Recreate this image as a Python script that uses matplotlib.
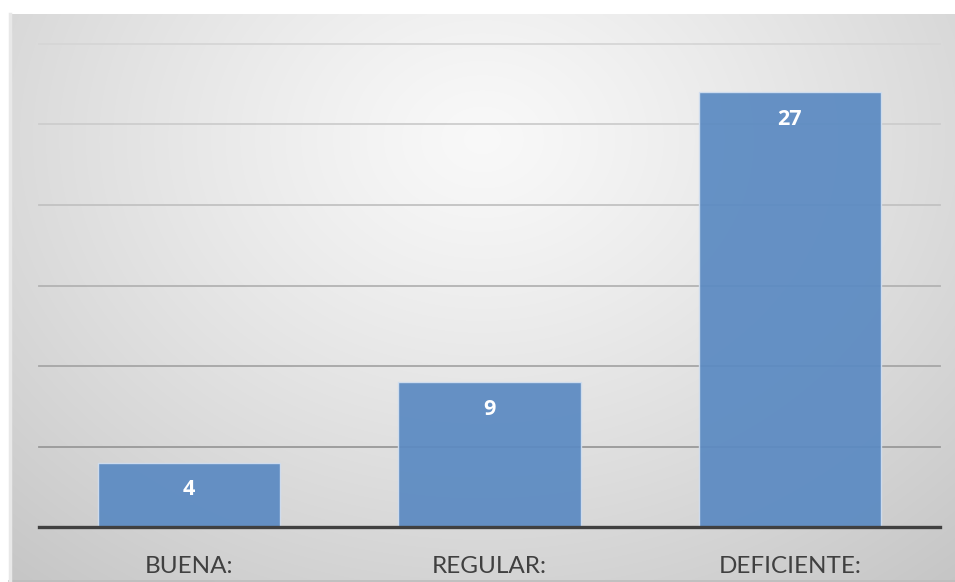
import numpy as np
import matplotlib
matplotlib.use("Agg")
import matplotlib.pyplot as plt

# Chart data
categories = ["BUENA:", "REGULAR:", "DEFICIENTE:"]
values = [4, 9, 27]
grid_levels = [5, 10, 15, 20, 25, 30]

W, H = 955, 582
fig = plt.figure(figsize=(W / 100, H / 100), dpi=100)
fig.patch.set_facecolor("white")

# Chart-area background: soft radial gradient, bright near top centre
bg = fig.add_axes([9 / W, 0, (W - 9) / W, (H - 14) / H])
ny, nx = 300, 500
yy, xx = np.mgrid[0:1:ny * 1j, 0:1:nx * 1j]
d = np.sqrt(((xx - 0.5) / 0.75) ** 2 + ((yy - 0.22) / 1.0) ** 2)
d = np.clip(d / d.max(), 0, 1)
shade = 0.975 - 0.2 * d ** 1.2
img = np.dstack([shade, shade, shade])
bg.imshow(img, aspect="auto", extent=[0, 1, 1, 0], interpolation="bilinear")
bg.set_xlim(0, 1)
bg.set_ylim(1, 0)
bg.axis("off")
bg.plot([0, 1], [0.001, 0.001], color="#bdbdbd", lw=1.2, transform=bg.transAxes, clip_on=False)
bg.plot([0.001, 0.001], [0, 1], color="#e8e8e8", lw=2.5, transform=bg.transAxes, clip_on=False)

# Plot area
left, right = 39 / W, 940 / W
bottom, top = (H - 527) / H, (H - 44) / H
ax = fig.add_axes([left, bottom, right - left, top - bottom])
ax.patch.set_alpha(0)
ax.set_xlim(-0.5, len(categories) - 0.5)
ax.set_ylim(0, 30)

# Horizontal gridlines, darker toward the bottom
grid_colors = ["#999999", "#a6a6a6", "#b3b3b3", "#c2c2c2", "#cdcdcd", "#d6d6d6"]
for lvl, c in zip(grid_levels, grid_colors):
    ax.axhline(lvl, color=c, lw=1.3, zorder=1, clip_on=False)

x = np.arange(len(categories))
ax.bar(x, values, width=0.606, color="#5b8ac2", alpha=0.93,
       edgecolor="#d2dff0", linewidth=1.0, zorder=2)

ax.axhline(0, color="#404040", lw=2.4, zorder=3, clip_on=False)

for xi, v in zip(x, values):
    ax.annotate(str(v), (xi, v), xytext=(0, -27), textcoords="offset pixels",
                ha="center", va="center", color="white", fontsize=15.5,
                fontweight="bold", family="Open Sans", zorder=4)

ax.set_xticks(x)
ax.set_xticklabels(categories, fontsize=17.5, color="#404040", family="Lato")
ax.tick_params(axis="x", length=0, pad=21)
ax.set_yticks([])
for s in ax.spines.values():
    s.set_visible(False)

fig.savefig("out.png", dpi=100)
